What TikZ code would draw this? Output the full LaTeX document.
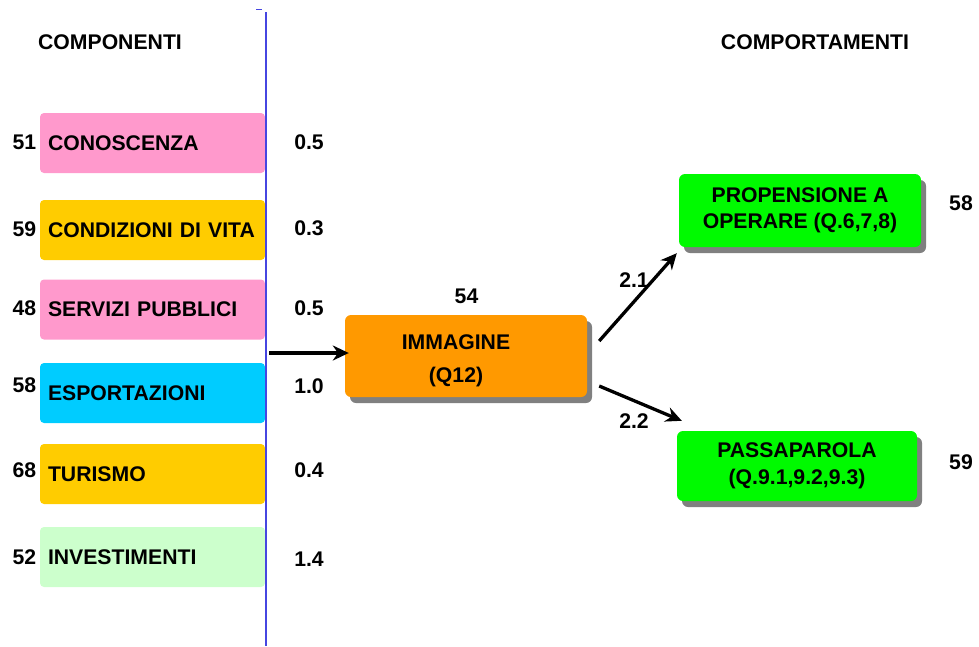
\documentclass[tikz,border=0pt]{standalone}
\usepackage{fontspec}
\setmainfont{Liberation Sans}
\usetikzlibrary{arrows.meta,shadows}
\definecolor{cpink}{RGB}{255,153,204}
\definecolor{cyellow}{RGB}{255,204,0}
\definecolor{ccyan}{RGB}{0,204,255}
\definecolor{clgreen}{RGB}{204,255,204}
\definecolor{corange}{RGB}{255,153,0}
\definecolor{cgreen}{RGB}{0,250,0}
\definecolor{cshadow}{RGB}{128,128,128}
\definecolor{vline}{RGB}{70,70,225}
\begin{document}
\begin{tikzpicture}[x=1pt,y=-1pt,
  every node/.style={font=\fontsize{21.2}{24}\selectfont\bfseries, inner sep=0pt},
  lbox/.style={rounded corners=4pt, minimum width=225pt, minimum height=60pt,
    text width=209pt, inner xsep=8pt, align=left},
  sbox/.style={rounded corners=6pt, drop shadow={shadow xshift=5pt, shadow yshift=-6pt, fill=cshadow, opacity=1}},
  arr/.style={line width=3.3pt, -{Stealth[length=16pt,width=15pt]}},
  twol/.style={align=center, font=\fontsize{21.2}{26.5}\selectfont\bfseries}]
\useasboundingbox (0,0) rectangle (979,646);

% headings
\node (hcomp) at (110,42) {COMPONENTI};
\node (hbeh) at (815,42) {COMPORTAMENTI};

% left boxes
\node[lbox, fill=cpink] (b1) at (152.5,143) {CONOSCENZA};
\node[lbox, fill=cyellow] (b2) at (152.5,230) {CONDIZIONI DI VITA};
\node[lbox, fill=cpink] (b3) at (152.5,309.5) {SERVIZI PUBBLICI};
\node[lbox, fill=ccyan] (b4) at (152.5,393) {ESPORTAZIONI};
\node[lbox, fill=cyellow] (b5) at (152.5,474) {TURISMO};
\node[lbox, fill=clgreen] (b6) at (152.5,557) {INVESTIMENTI};

% vertical line
\draw[draw=vline, line width=1.8pt] (266,12) -- (266,646);
\draw[draw=vline, line width=1.8pt] (256,9.5) -- (262,9.5);

% left numbers
\node (n1) at (24.5,142) {51};
\node (n2) at (24.5,229) {59};
\node (n3) at (24.5,308) {48};
\node (n4) at (24.5,385.5) {58};
\node (n5) at (24.5,470) {68};
\node (n6) at (24.5,557) {52};

% weights
\node (w1) at (309,142) {0.5};
\node (w2) at (309,228.5) {0.3};
\node (w3) at (309,308) {0.5};
\node (w4) at (309,386) {1.0};
\node (w5) at (309,470) {0.4};
\node (w6) at (309,559) {1.4};

% IMMAGINE
\node[sbox, fill=corange, minimum width=242pt, minimum height=82pt] (imm) at (466,356) {};
\node[align=center, font=\fontsize{21.2}{33.5}\selectfont\bfseries] (immt) at ([shift={(-10,5)}]imm.center) {IMMAGINE\\(Q12)};
\node (v54) at (466.5,296) {54};

% outcome boxes
\node[sbox, fill=cgreen, minimum width=242pt, minimum height=73pt, twol] (prop) at (800,210.5) {PROPENSIONE A\\OPERARE (Q.6,7,8)};
\node[sbox, fill=cgreen, minimum width=240pt, minimum height=70pt, twol] (pass) at (797,466) {PASSAPAROLA\\(Q.9.1,9.2,9.3)};
\node (v58) at (961,203.5) {58};
\node (v59) at (961,462.5) {59};

% arrows
\coordinate (ins) at (269,353);
\draw[arr] (ins) -- ([shift={(4,-3)}]imm.west);
\coordinate (a1s) at ([shift={(12,-15)}]imm.east);
\coordinate (a1e) at ([shift={(-2,6)}]prop.south west);
\draw[arr] (a1s) -- (a1e);
\coordinate (a2s) at ([shift={(12,30)}]imm.east);
\coordinate (a2e) at ([shift={(5,-10)}]pass.north west);
\draw[arr] (a2s) -- (a2e);
\node (l21) at (634,280) {2.1};
\node (l22) at (634,421) {2.2};
\end{tikzpicture}
\end{document}
